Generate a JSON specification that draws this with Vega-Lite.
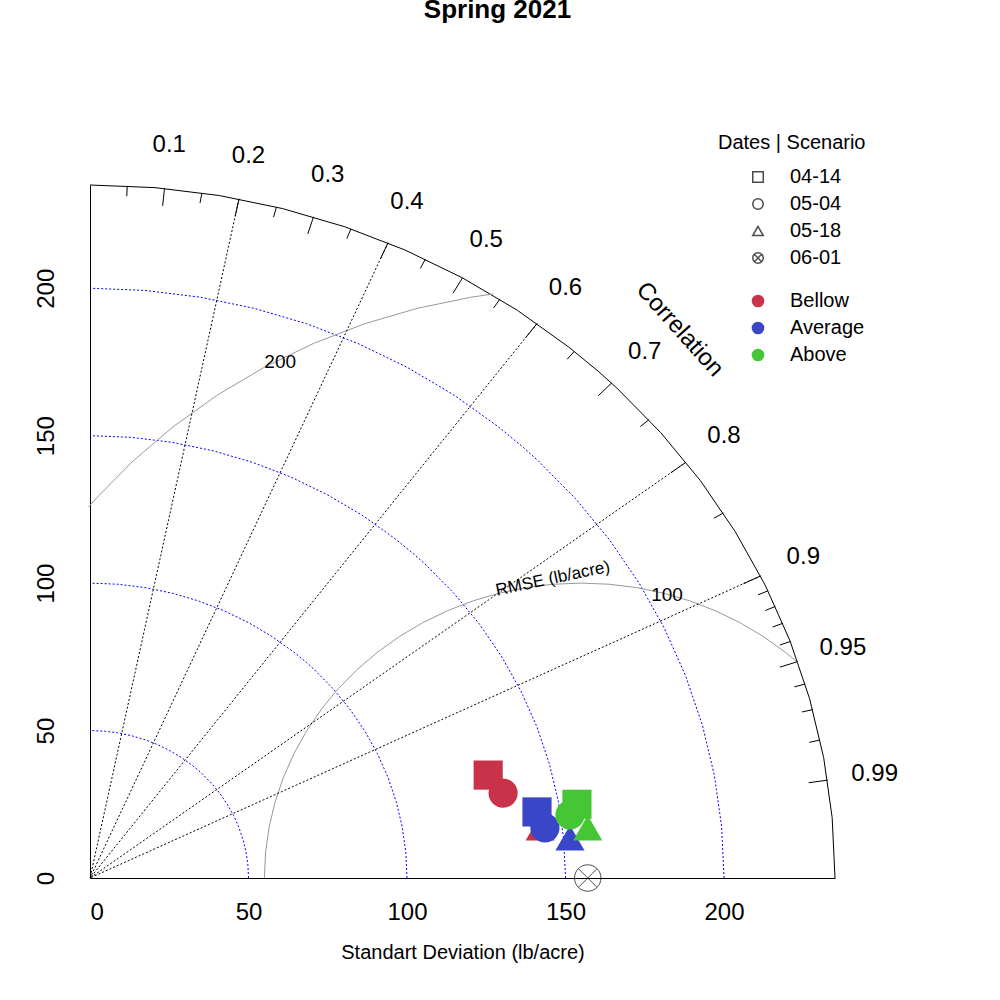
{
  "$schema": "https://vega.github.io/schema/vega-lite/v6.json",
  "autosize": "none",
  "width": 745,
  "height": 693,
  "padding": {"left": 90, "top": 185, "right": 165, "bottom": 122},
  "background": "white",
  "config": {"view": {"stroke": null}, "font": "Liberation Sans"},
  "title": {"text": "Spring 2021", "fontSize": 26, "fontWeight": "bold", "offset": 110, "dx": 35, "font": "Liberation Sans"},
  "datasets": {
    "unit": [
      {"a":0,"c":1,"s":0},{"a":5,"c":0.9962,"s":0.0872},{"a":10,"c":0.9848,"s":0.1736},{"a":15,"c":0.9659,"s":0.2588},
      {"a":20,"c":0.9397,"s":0.342},{"a":25,"c":0.9063,"s":0.4226},{"a":30,"c":0.866,"s":0.5},{"a":35,"c":0.8192,"s":0.5736},
      {"a":40,"c":0.766,"s":0.6428},{"a":45,"c":0.7071,"s":0.7071},{"a":47,"c":0.682,"s":0.7314},{"a":50,"c":0.6428,"s":0.766},
      {"a":55,"c":0.5736,"s":0.8192},{"a":60,"c":0.5,"s":0.866},{"a":65,"c":0.4226,"s":0.9063},{"a":70,"c":0.342,"s":0.9397},
      {"a":75,"c":0.2588,"s":0.9659},{"a":80,"c":0.1736,"s":0.9848},{"a":85,"c":0.0872,"s":0.9962},{"a":90,"c":0,"s":1},
      {"a":95,"c":-0.0872,"s":0.9962},{"a":98,"c":-0.1392,"s":0.9903},{"a":100,"c":-0.1736,"s":0.9848},{"a":105,"c":-0.2588,"s":0.9659},
      {"a":110,"c":-0.342,"s":0.9397},{"a":115,"c":-0.4226,"s":0.9063},{"a":120,"c":-0.5,"s":0.866},{"a":125,"c":-0.5736,"s":0.8192},
      {"a":130,"c":-0.6428,"s":0.766},{"a":135,"c":-0.7071,"s":0.7071},{"a":140,"c":-0.766,"s":0.6428},{"a":141,"c":-0.7771,"s":0.6293},
      {"a":145,"c":-0.8192,"s":0.5736},{"a":150,"c":-0.866,"s":0.5},{"a":155,"c":-0.9063,"s":0.4226},{"a":160,"c":-0.9397,"s":0.342},
      {"a":165,"c":-0.9659,"s":0.2588},{"a":170,"c":-0.9848,"s":0.1736},{"a":175,"c":-0.9962,"s":0.0872},{"a":180,"c":-1,"s":0}
    ],
    "rays": [
      {"r":0.2,"x":47,"y":230.3,"o":0},{"r":0.4,"x":94,"y":215.4,"o":0},{"r":0.6,"x":141,"y":188,"o":0},
      {"r":0.8,"x":188,"y":141,"o":0},{"r":0.9,"x":211.5,"y":102.4,"o":0}
    ],
    "ticks": [
      {"x":23.5,"y":233.8,"x2":22.9,"y2":227.9},{"x":47,"y":230.3,"x2":45.8,"y2":224.4},
      {"x":70.5,"y":224.2,"x2":68.7,"y2":218.4},{"x":94,"y":215.4,"x2":91.6,"y2":209.9},
      {"x":117.5,"y":203.5,"x2":114.5,"y2":198.3},{"x":141,"y":188,"x2":137.4,"y2":183.2},
      {"x":164.5,"y":167.8,"x2":160.3,"y2":163.5},{"x":188,"y":141,"x2":183.2,"y2":137.4},
      {"x":211.5,"y":102.4,"x2":206.1,"y2":99.8},{"x":223.3,"y":73.4,"x2":217.6,"y2":71.5},
      {"x":232.7,"y":33.2,"x2":226.7,"y2":32.3},
      {"x":11.75,"y":234.7,"x2":11.6,"y2":231.2},{"x":35.3,"y":232.3,"x2":34.7,"y2":228.9},
      {"x":58.8,"y":227.5,"x2":57.9,"y2":224.1},{"x":82.3,"y":220.1,"x2":81,"y2":216.8},
      {"x":105.8,"y":209.9,"x2":104.2,"y2":206.7},{"x":129.3,"y":196.3,"x2":127.3,"y2":193.3},
      {"x":152.8,"y":178.6,"x2":150.5,"y2":175.9},{"x":176.3,"y":155.4,"x2":173.6,"y2":153.1},
      {"x":199.8,"y":123.8,"x2":196.8,"y2":122},{"x":213.9,"y":97.4,"x2":210.7,"y2":96},
      {"x":216.2,"y":92.1,"x2":213,"y2":90.7},{"x":218.6,"y":86.4,"x2":215.3,"y2":85.1},
      {"x":220.9,"y":80.2,"x2":217.6,"y2":79},{"x":225.6,"y":65.8,"x2":222.2,"y2":64.8},
      {"x":228,"y":57.1,"x2":224.6,"y2":56.3},{"x":230.3,"y":46.8,"x2":226.9,"y2":46}
    ],
    "corlabels": [
      {"t":"0.1","x":25,"y":248.7},{"t":"0.2","x":50,"y":245},{"t":"0.3","x":75,"y":238.5},
      {"t":"0.4","x":100,"y":229.1},{"t":"0.5","x":125,"y":216.5},{"t":"0.6","x":150,"y":200},
      {"t":"0.7","x":175,"y":178.5},{"t":"0.8","x":200,"y":150},{"t":"0.9","x":225,"y":109},
      {"t":"0.95","x":237.5,"y":78},{"t":"0.99","x":247.5,"y":35.3}
    ],
    "models": [
      {"date":"04-14","scenario":"Bellow","x":125.6,"y":34.9},
      {"date":"05-04","scenario":"Bellow","x":130.3,"y":28.8},
      {"date":"05-18","scenario":"Bellow","x":142,"y":17},
      {"date":"04-14","scenario":"Average","x":141,"y":22.4},
      {"date":"05-04","scenario":"Average","x":143.5,"y":17},
      {"date":"05-18","scenario":"Average","x":151.4,"y":13.6},
      {"date":"05-04","scenario":"Above","x":151.4,"y":21.4},
      {"date":"04-14","scenario":"Above","x":153.6,"y":25},
      {"date":"05-18","scenario":"Above","x":157,"y":17}
    ],
    "ref": [{"date":"06-01","x":157,"y":0}]
  },
  "resolve": {"scale": {"x": "independent", "y": "independent"}},
  "layer": [
    {
      "data": {"name": "unit"},
      "transform": [{"filter": "datum.a <= 90"}],
      "mark": {"type": "line", "stroke": "blue", "strokeWidth": 1, "strokeDash": [2, 2]},
      "encoding": {
        "x": {"field": "c", "type": "quantitative", "scale": {"domain": [0, 4.7], "nice": false}, "axis": null},
        "y": {"field": "s", "type": "quantitative", "scale": {"domain": [0, 4.7], "nice": false}, "axis": null},
        "order": {"field": "a", "type": "quantitative"}
      }
    },
    {
      "data": {"name": "unit"},
      "transform": [{"filter": "datum.a <= 90"}],
      "mark": {"type": "line", "stroke": "blue", "strokeWidth": 1, "strokeDash": [2, 2]},
      "encoding": {
        "x": {"field": "c", "type": "quantitative", "scale": {"domain": [0, 2.35], "nice": false}, "axis": null},
        "y": {"field": "s", "type": "quantitative", "scale": {"domain": [0, 2.35], "nice": false}, "axis": null},
        "order": {"field": "a", "type": "quantitative"}
      }
    },
    {
      "data": {"name": "unit"},
      "transform": [{"filter": "datum.a <= 90"}],
      "mark": {"type": "line", "stroke": "blue", "strokeWidth": 1, "strokeDash": [2, 2]},
      "encoding": {
        "x": {"field": "c", "type": "quantitative", "scale": {"domain": [0, 1.5667], "nice": false}, "axis": null},
        "y": {"field": "s", "type": "quantitative", "scale": {"domain": [0, 1.5667], "nice": false}, "axis": null},
        "order": {"field": "a", "type": "quantitative"}
      }
    },
    {
      "data": {"name": "unit"},
      "transform": [{"filter": "datum.a <= 90"}],
      "mark": {"type": "line", "stroke": "blue", "strokeWidth": 1, "strokeDash": [2, 2]},
      "encoding": {
        "x": {"field": "c", "type": "quantitative", "scale": {"domain": [0, 1.175], "nice": false}, "axis": null},
        "y": {"field": "s", "type": "quantitative", "scale": {"domain": [0, 1.175], "nice": false}, "axis": null},
        "order": {"field": "a", "type": "quantitative"}
      }
    },
    {
      "data": {"name": "unit"},
      "transform": [{"filter": "datum.a <= 90"}],
      "mark": {"type": "line", "stroke": "black", "strokeWidth": 1},
      "encoding": {
        "x": {"field": "c", "type": "quantitative", "scale": {"domain": [0, 1], "nice": false}, "axis": null},
        "y": {"field": "s", "type": "quantitative", "scale": {"domain": [0, 1], "nice": false}, "axis": null},
        "order": {"field": "a", "type": "quantitative"}
      }
    },
    {
      "data": {"name": "unit"},
      "transform": [{"filter": "datum.a >= 98 && datum.a <= 141"}],
      "mark": {"type": "line", "stroke": "#999999", "strokeWidth": 1},
      "encoding": {
        "x": {"field": "c", "type": "quantitative", "scale": {"domain": [-0.775, 0.4], "nice": false}, "axis": null},
        "y": {"field": "s", "type": "quantitative", "scale": {"domain": [0, 1.175], "nice": false}, "axis": null},
        "order": {"field": "a", "type": "quantitative"}
      }
    },
    {
      "data": {"name": "unit"},
      "transform": [{"filter": "datum.a >= 47"}],
      "mark": {"type": "line", "stroke": "#999999", "strokeWidth": 1},
      "encoding": {
        "x": {"field": "c", "type": "quantitative", "scale": {"domain": [-1.55, 0.8], "nice": false}, "axis": null},
        "y": {"field": "s", "type": "quantitative", "scale": {"domain": [0, 2.35], "nice": false}, "axis": null},
        "order": {"field": "a", "type": "quantitative"}
      }
    },
    {
      "data": {"name": "rays"},
      "mark": {"type": "rule", "stroke": "black", "strokeWidth": 1, "strokeDash": [2, 2]},
      "encoding": {
        "x": {"field": "x", "type": "quantitative", "scale": {"domain": [0, 235], "nice": false}, "axis": null},
        "y": {"field": "y", "type": "quantitative", "scale": {"domain": [0, 235], "nice": false}, "axis": null},
        "x2": {"field": "o"},
        "y2": {"field": "o"}
      }
    },
    {
      "data": {"name": "ticks"},
      "mark": {"type": "rule", "stroke": "black", "strokeWidth": 1},
      "encoding": {
        "x": {"field": "x", "type": "quantitative", "scale": {"domain": [0, 235], "nice": false}, "axis": null},
        "y": {"field": "y", "type": "quantitative", "scale": {"domain": [0, 235], "nice": false}, "axis": null},
        "x2": {"field": "x2"},
        "y2": {"field": "y2"}
      }
    },
    {
      "data": {"name": "corlabels"},
      "mark": {"type": "text", "fontSize": 24, "clip": false},
      "encoding": {
        "x": {"field": "x", "type": "quantitative", "scale": {"domain": [0, 235], "nice": false}, "axis": null},
        "y": {"field": "y", "type": "quantitative", "scale": {"domain": [0, 235], "nice": false}, "axis": null},
        "text": {"field": "t", "type": "nominal"}
      }
    },
    {
      "data": {"values": [
        {"t": "Correlation", "x": 186, "y": 186, "ang": 48, "size": 24},
        {"t": "200", "x": 60, "y": 175, "ang": 0, "size": 19},
        {"t": "100", "x": 182, "y": 96, "ang": 0, "size": 19},
        {"t": "RMSE (lb/acre)", "x": 146, "y": 101.5, "ang": 348, "size": 17}
      ]},
      "mark": {"type": "text", "clip": false},
      "encoding": {
        "x": {"field": "x", "type": "quantitative", "scale": {"domain": [0, 235], "nice": false}, "axis": null},
        "y": {"field": "y", "type": "quantitative", "scale": {"domain": [0, 235], "nice": false}, "axis": null},
        "text": {"field": "t", "type": "nominal"},
        "angle": {"field": "ang", "type": "quantitative", "scale": null},
        "size": {"field": "size", "type": "quantitative", "scale": null, "legend": null}
      }
    },
    {
      "data": {"name": "ref"},
      "mark": {"type": "point", "filled": false, "stroke": "black", "strokeWidth": 1, "size": 700},
      "encoding": {
        "x": {"field": "x", "type": "quantitative", "scale": {"domain": [0, 235], "nice": false}, "axis": null},
        "y": {"field": "y", "type": "quantitative", "scale": {"domain": [0, 235], "nice": false}, "axis": null},
        "shape": {"field": "date", "type": "nominal"}
      }
    },
    {
      "data": {"name": "models"},
      "mark": {"type": "point", "filled": true, "opacity": 1, "size": 850},
      "encoding": {
        "x": {
          "field": "x", "type": "quantitative",
          "scale": {"domain": [0, 235], "nice": false},
          "axis": {"values": [0, 50, 100, 150, 200], "ticks": false, "grid": false, "domainColor": "black", "labelFontSize": 24, "labelColor": "black", "labelPadding": 22, "title": "Standart Deviation (lb/acre)", "titleFontSize": 20, "titleFontWeight": "normal", "titlePadding": 18, "titleColor": "black"}
        },
        "y": {
          "field": "y", "type": "quantitative",
          "scale": {"domain": [0, 235], "nice": false},
          "axis": {"values": [0, 50, 100, 150, 200], "ticks": false, "grid": false, "domainColor": "black", "labelFontSize": 24, "labelColor": "black", "labelAngle": -90, "labelAlign": "center", "labelBaseline": "bottom", "labelPadding": 32, "title": null}
        },
        "shape": {
          "field": "date", "type": "nominal",
          "scale": {"domain": ["04-14", "05-04", "05-18", "06-01"], "range": ["square", "circle", "triangle-up", "M-1,0A1,1 0 1 1 1,0A1,1 0 1 1 -1,0ZM-0.7,-0.7L0.7,0.7M-0.7,0.7L0.7,-0.7"]},
          "legend": {"orient": "none", "legendX": 628, "legendY": -52, "title": "Dates | Scenario", "titleFontSize": 20, "titleFontWeight": "normal", "titlePadding": 14, "labelFontSize": 20, "symbolSize": 110, "symbolFillColor": "black", "symbolStrokeColor": "black", "symbolOffset": 30, "labelOffset": 22, "rowPadding": 7}
        },
        "color": {
          "field": "scenario", "type": "nominal",
          "scale": {"domain": ["Bellow", "Average", "Above"], "range": ["#C8334A", "#3A46C8", "#45C735"]},
          "legend": {"orient": "none", "legendX": 628, "legendY": 106, "title": null, "labelFontSize": 20, "symbolType": "circle", "symbolSize": 160, "symbolOffset": 30, "labelOffset": 22, "rowPadding": 7}
        }
      }
    }
  ]
}
